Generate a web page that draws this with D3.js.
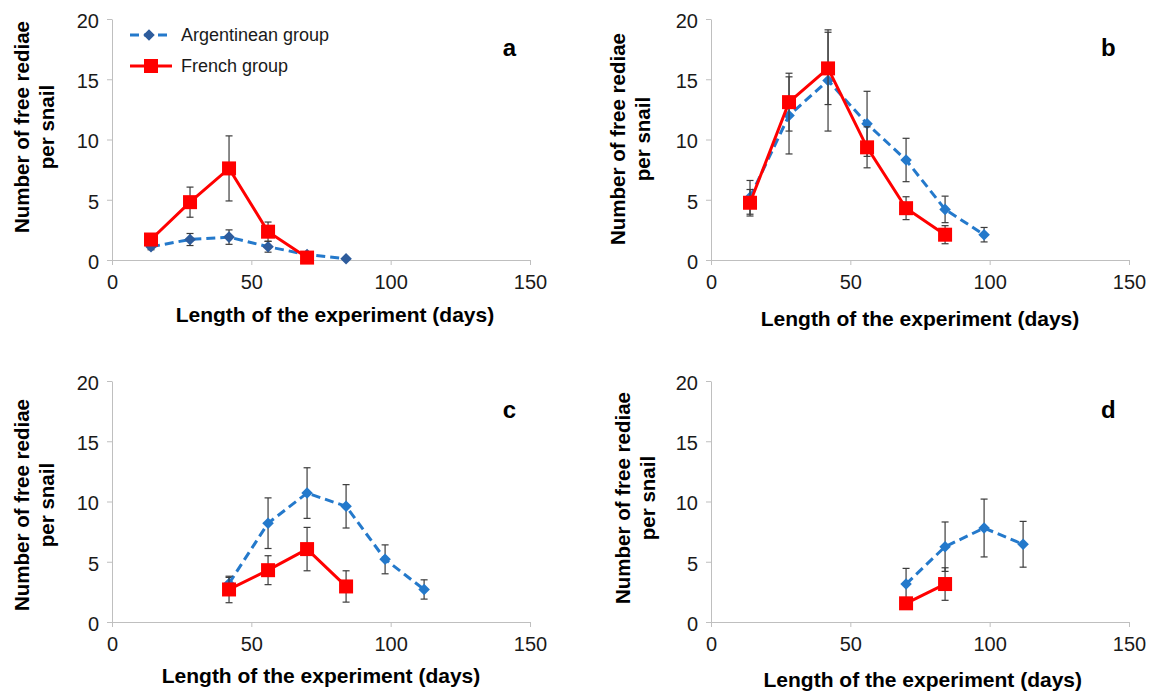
<!DOCTYPE html>
<html>
<head>
<meta charset="utf-8">
<script src="https://d3js.org/d3.v7.min.js"></script>
<style>
  body { margin: 0; background: #fff; }
  svg { display: block; font-family: "Liberation Sans", Arial, sans-serif; }
</style>
</head>
<body>
<svg width="1152" height="691"></svg>
<script>
// values (days, mean, +/- error)
var panelLetters = ["a", "b", "c", "d"];
var argDays = [[14, 28, 42, 56, 70, 84], [14, 28, 42, 56, 70, 84, 98], [42, 56, 70, 84, 98, 112], [70, 84, 98, 112]];
var argMean = [[1.1, 1.7, 1.9, 1.1, 0.45, 0.1], [5.2, 12.0, 14.9, 11.3, 8.3, 4.2, 2.1], [3.2, 8.2, 10.7, 9.6, 5.2, 2.7], [3.15, 6.25, 7.8, 6.45]];
var argErr = [[0.25, 0.5, 0.6, 0.45, 0.2, 0.1], [1.4, 3.2, 4.2, 2.7, 1.8, 1.1, 0.6], [0.5, 2.1, 2.1, 1.8, 1.2, 0.8], [1.3, 2.05, 2.4, 1.9]];
var frDays = [[14, 28, 42, 56, 70], [14, 28, 42, 56, 70, 84], [42, 56, 70, 84], [70, 84]];
var frMean = [[1.7, 4.8, 7.6, 2.35, 0.2], [4.75, 13.1, 15.9, 9.35, 4.3, 2.1], [2.7, 4.3, 6.05, 2.95], [1.55, 3.15]];
var frErr = [[0.35, 1.25, 2.7, 0.8, 0.1], [1.1, 2.4, 3.0, 1.7, 0.95, 0.75], [1.1, 1.2, 1.8, 1.3], [0.3, 1.35]];
var xTicks = [0, 50, 100, 150];
var yTicks = [0, 5, 10, 15, 20];
var seriesNames = ["Argentinean group", "French group"];

// panel frames in page pixels, plus where the axis titles sit
var frames = [
  {left: 112, right: 530, bottom: 260, top: 19, xlabDay: 80, xlab: 322, ylab: 28.5, ymid: 127},
  {left: 711, right: 1129, bottom: 260, top: 19, xlabDay: 75, xlab: 326, ylab: 625, ymid: 139},
  {left: 112, right: 530, bottom: 622, top: 381, xlabDay: 75, xlab: 683, ylab: 28.5, ymid: 505},
  {left: 711, right: 1129, bottom: 622, top: 381, xlabDay: 76, xlab: 687, ylab: 630, ymid: 498}
];

var blue = "#2479cb", red = "#ff0000", errColor = "#3c3c3c", axisColor = "#bfbfbf";
var svg = d3.select("svg");

var diamond = d3.symbol().type(d3.symbolDiamond2).size(85);

function drawSeries(g, x, y, days, mean, err, isArg, markerColor) {
  var pts = days.map(function(d, i) { return {d: d, m: mean[i], e: err[i]}; });
  var line = d3.line().x(function(p) { return x(p.d); }).y(function(p) { return y(p.m); });

  var eb = g.append("g").attr("stroke", errColor).attr("stroke-width", 1.2);
  pts.forEach(function(p) {
    eb.append("line").attr("x1", x(p.d)).attr("x2", x(p.d)).attr("y1", y(p.m - p.e)).attr("y2", y(p.m + p.e));
    eb.append("line").attr("x1", x(p.d) - 3.5).attr("x2", x(p.d) + 3.5).attr("y1", y(p.m + p.e)).attr("y2", y(p.m + p.e));
    eb.append("line").attr("x1", x(p.d) - 3.5).attr("x2", x(p.d) + 3.5).attr("y1", y(p.m - p.e)).attr("y2", y(p.m - p.e));
  });

  g.append("path").datum(pts).attr("d", line).attr("fill", "none")
    .attr("stroke", isArg ? blue : red).attr("stroke-width", 3)
    .attr("stroke-dasharray", isArg ? "9,5" : null);

  if (isArg) {
    g.selectAll(null).data(pts).enter().append("path")
      .attr("d", diamond)
      .attr("transform", function(p) { return "translate(" + x(p.d) + "," + y(p.m) + ")"; })
      .attr("fill", markerColor);
  } else {
    g.selectAll(null).data(pts).enter().append("rect")
      .attr("x", function(p) { return x(p.d) - 7; })
      .attr("y", function(p) { return y(p.m) - 7; })
      .attr("width", 14).attr("height", 14)
      .attr("fill", red);
  }
}

frames.forEach(function(f, k) {
  var x = d3.scaleLinear().domain([0, 150]).range([f.left, f.right]);
  var y = d3.scaleLinear().domain([0, 20]).range([f.bottom, f.top]);
  var g = svg.append("g");

  var xa = g.append("g").attr("transform", "translate(0," + f.bottom + ")")
    .call(d3.axisBottom(x).tickValues(xTicks).tickSize(5).tickSizeOuter(0).tickPadding(10));
  var ya = g.append("g").attr("transform", "translate(" + f.left + ",0)")
    .call(d3.axisLeft(y).tickValues(yTicks).tickSize(5).tickSizeOuter(0).tickPadding(8));
  [xa, ya].forEach(function(a) {
    a.select(".domain").attr("stroke", axisColor);
    a.selectAll(".tick line").attr("stroke", axisColor);
    a.selectAll(".tick text").attr("fill", "#1a1a1a")
      .style("font-size", "20px").style("font-family", "'Liberation Sans', Arial, sans-serif");
  });
  ya.selectAll(".tick text").attr("dy", "0.42em");

  drawSeries(g, x, y, argDays[k], argMean[k], argErr[k], true, k === 0 ? "#2e5c9c" : blue);
  drawSeries(g, x, y, frDays[k], frMean[k], frErr[k], false);

  g.append("text").text("Length of the experiment (days)")
    .attr("x", x(f.xlabDay)).attr("y", f.xlab)
    .attr("text-anchor", "middle").style("font-size", "21px").style("font-weight", "bold");

  var yl = g.append("text").attr("transform", "translate(" + f.ylab + "," + f.ymid + ") rotate(-90)")
    .attr("text-anchor", "middle").style("font-size", "20.5px").style("font-weight", "bold");
  yl.append("tspan").attr("x", 0).attr("y", 0).text("Number of free rediae");
  yl.append("tspan").attr("x", 0).attr("y", 25).text("per snail");

  g.append("text").text(panelLetters[k])
    .attr("x", x(148) - 15).attr("y", y(16.9))
    .attr("text-anchor", "middle").style("font-size", "24px").style("font-weight", "bold");
});

// legend (panel a)
var lg = svg.append("g");
lg.append("line").attr("x1", 130).attr("x2", 168).attr("y1", 35).attr("y2", 35)
  .attr("stroke", blue).attr("stroke-width", 3).attr("stroke-dasharray", "9,5");
lg.append("path").attr("d", diamond).attr("transform", "translate(149,35)").attr("fill", "#2e5c9c");
lg.append("line").attr("x1", 130).attr("x2", 172).attr("y1", 66).attr("y2", 66)
  .attr("stroke", red).attr("stroke-width", 3);
lg.append("rect").attr("x", 144).attr("y", 59).attr("width", 14).attr("height", 14).attr("fill", red);
seriesNames.forEach(function(name, i) {
  lg.append("text").text(name).attr("x", 181).attr("y", 35 + i * 31)
    .attr("dy", "0.35em").style("font-size", "18px").attr("fill", "#1a1a1a");
});
</script>
</body>
</html>
